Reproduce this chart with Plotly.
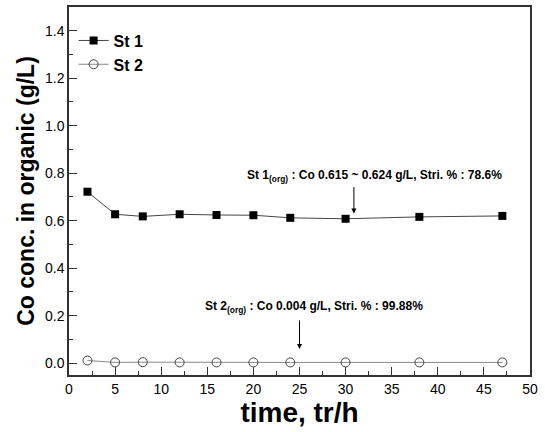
import plotly.graph_objects as go

time_h = [2, 5, 8, 12, 16, 20, 24, 30, 38, 47]
st1 = [0.722, 0.627, 0.618, 0.627, 0.624, 0.623, 0.612, 0.608, 0.616, 0.620]
st2 = [0.011, 0.003, 0.004, 0.003, 0.003, 0.003, 0.003, 0.003, 0.003, 0.003]

x_ticks = [0, 5, 10, 15, 20, 25, 30, 35, 40, 45, 50]
y_ticks = [0.0, 0.2, 0.4, 0.6, 0.8, 1.0, 1.2, 1.4]

fig = go.Figure()
fig.add_trace(go.Scatter(
    x=time_h, y=st1, name="<b>St 1</b>", mode="lines+markers",
    line=dict(color="#444444", width=1),
    marker=dict(symbol="square", size=8, color="black", line=dict(color="black", width=0)),
))
fig.add_trace(go.Scatter(
    x=time_h, y=st2, name="<b>St 2</b>", mode="lines+markers",
    line=dict(color="#888888", width=1),
    marker=dict(symbol="circle-open", size=9, color="#444444", line=dict(width=1)),
))

axis_common = dict(
    showline=True, linecolor="#333333", linewidth=1.5, mirror=True,
    ticks="inside", ticklen=8, tickwidth=1, tickcolor="#333333",
    showgrid=False, zeroline=False,
    tickfont=dict(family="Liberation Sans, Arial", size=14, color="black"),
)

fig.update_xaxes(
    range=[0, 50], tickvals=x_ticks, ticktext=[str(v) for v in x_ticks],
    minor=dict(ticks="inside", ticklen=4, tickcolor="#333333", dtick=2.5),
    title=dict(text="<b>time, tr/h</b>", font=dict(family="Liberation Sans, Arial", size=28, color="black"), standoff=4),
    **axis_common,
)
fig.update_yaxes(
    range=[-0.05, 1.5], tickvals=y_ticks, ticktext=[f"{v:.1f}" for v in y_ticks],
    minor=dict(ticks="inside", ticklen=4, tickcolor="#333333", dtick=0.1, tick0=0),
    title=dict(text="<b>Co conc. in organic (g/L)</b>", font=dict(family="Liberation Sans, Arial", size=23, color="black"), standoff=4),
    **axis_common,
)

ann_font = dict(family="Liberation Sans Narrow, Arial", size=12, color="black")
fig.add_annotation(x=33.1, y=0.789, xref="x", yref="y", showarrow=False,
                   text="<b>St 1<sub>(org)</sub> : Co 0.615 ~ 0.624 g/L, Stri. % : 78.6%</b>", font=ann_font)
fig.add_annotation(x=30.9, y=0.63, xref="x", yref="y", text="", showarrow=True,
                   ax=0, ay=-28, arrowhead=2, arrowsize=1, arrowwidth=1, arrowcolor="black")
fig.add_annotation(x=26.6, y=0.238, xref="x", yref="y", showarrow=False,
                   text="<b>St 2<sub>(org)</sub> : Co 0.004 g/L, Stri. % : 99.88%</b>", font=ann_font)
fig.add_annotation(x=25, y=0.06, xref="x", yref="y", text="", showarrow=True,
                   ax=0, ay=-30, arrowhead=2, arrowsize=1, arrowwidth=1, arrowcolor="black")

fig.update_layout(
    width=545, height=432,
    margin=dict(l=69, r=15, t=5, b=57),
    paper_bgcolor="white", plot_bgcolor="white",
    showlegend=True,
    legend=dict(x=0.01, y=0.955, xanchor="left", yanchor="top",
                bgcolor="rgba(0,0,0,0)", tracegroupgap=0,
                font=dict(family="Liberation Sans, Arial", size=16, color="black"),
                itemwidth=30),
)

fig.write_html("out.html")
